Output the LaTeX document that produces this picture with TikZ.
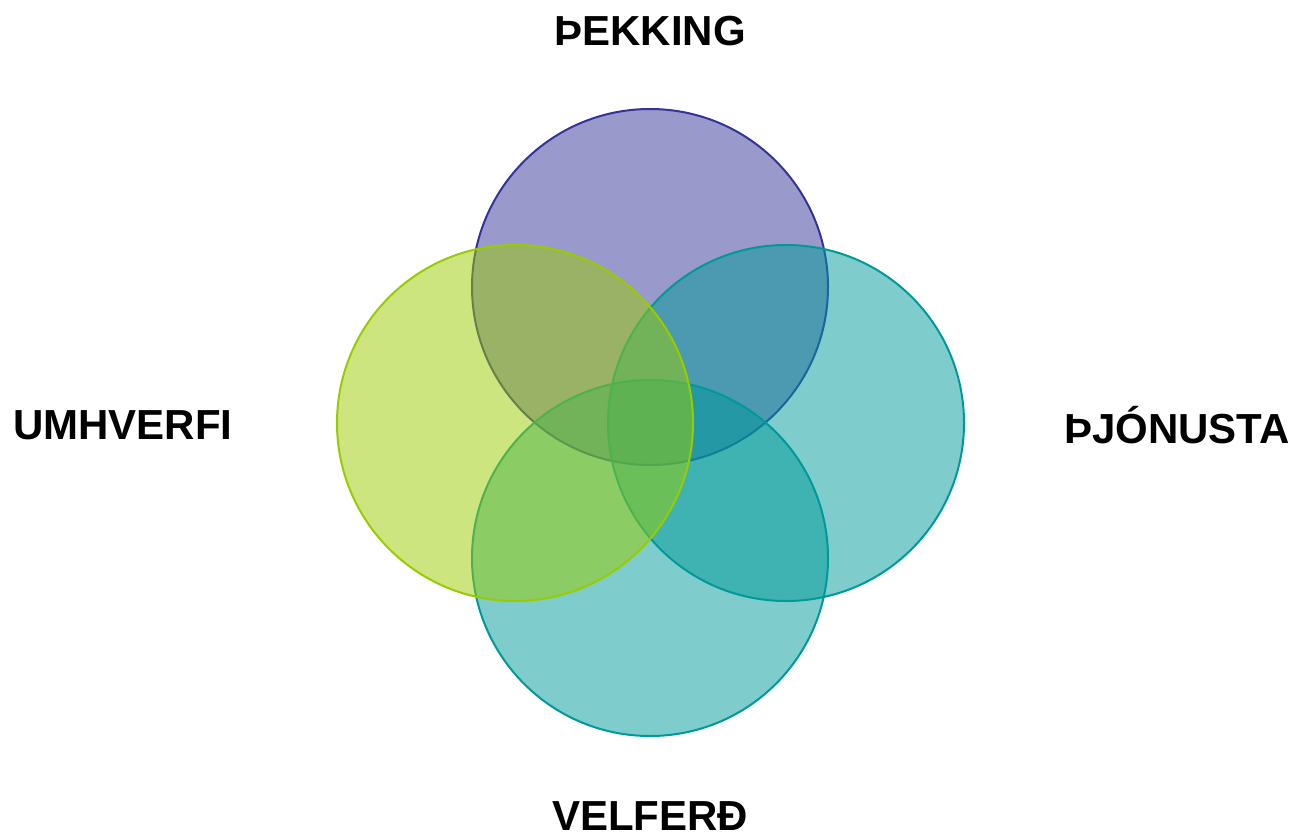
\documentclass[tikz,border=0pt]{standalone}
\usepackage{fontspec}
\setmainfont{Liberation Sans}
\begin{document}
\begin{tikzpicture}[x=1pt,y=-1pt,
  circ/.style={circle,minimum size=356pt,inner sep=0pt,line width=2pt,fill opacity=0.5,draw opacity=1},
  lbl/.style={font=\fontsize{42}{50}\selectfont\bfseries,inner sep=0pt,anchor=center}]
\useasboundingbox (0,0) rectangle (1298,836);
\definecolor{cpurple}{HTML}{333399}
\definecolor{cteal}{HTML}{009999}
\definecolor{clime}{HTML}{99CC00}
\node[circ,draw=cpurple,fill=cpurple] (top) at (650,287) {};
\node[circ,draw=cteal,fill=cteal] (right) at (786,423) {};
\node[circ,draw=cteal,fill=cteal] (bottom) at (650,558) {};
\node[circ,draw=clime,fill=clime] (left) at (515,423) {};
\node[lbl] (t1) at (650,31) {ÞEKKING};
\node[lbl] (t2) at (123,425) {UMHVERFI};
\node[lbl] (t3) at (1177,425) {ÞJÓNUSTA};
\node[lbl] (t4) at (650,816) {VELFERÐ};
\end{tikzpicture}
\end{document}
